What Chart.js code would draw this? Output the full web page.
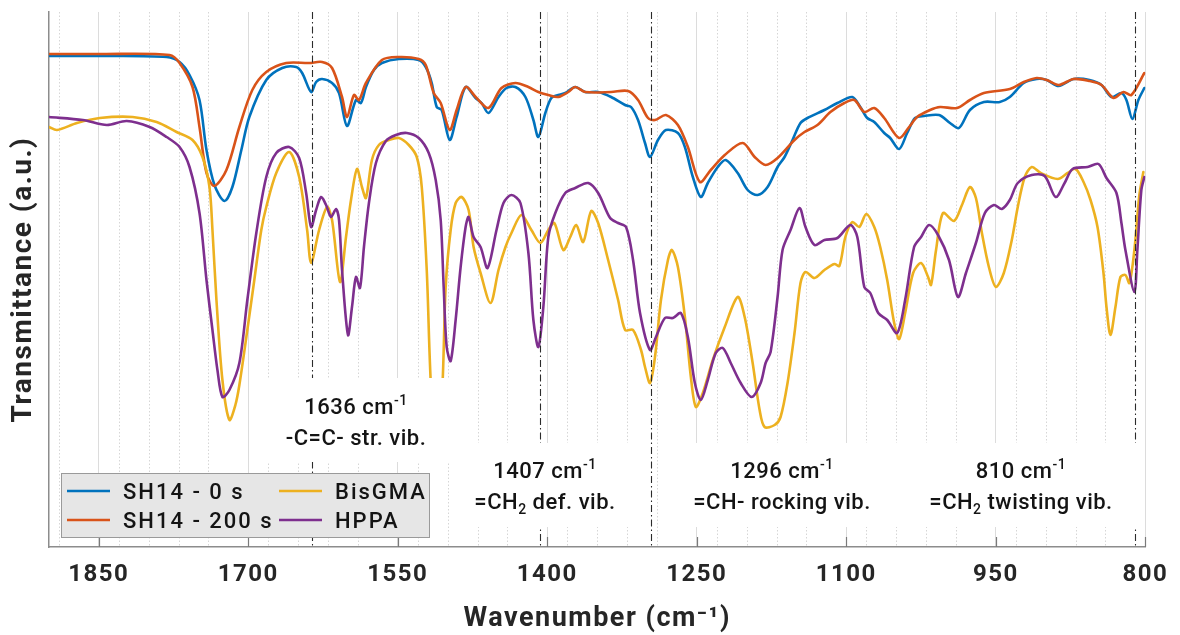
<!DOCTYPE html>
<html>
<head>
<meta charset="utf-8">
<script src="https://cdn.jsdelivr.net/npm/chart.js@4.4.0/dist/chart.umd.min.js"></script>
<style>
  html, body { margin: 0; padding: 0; background: #fff; }
  #wrap { width: 1180px; height: 635px; position: relative; }
</style>
</head>
<body>
<div id="wrap"><canvas id="ftir"></canvas></div>
<script>
// FTIR spectra, wavenumber (cm-1) vs transmittance (a.u.)
const sh0Wn = [1900,1849,1782,1769,1759,1749,1742,1734,1724,1716,1707,1699,1682,1666,1652,1646,1637,1632,1626,1616,
  1609,1601,1592,1587,1582,1574,1566,1549,1529,1522,1516,1511,1506,1498,1491,1482,1472,1466,1459,1449,
  1441,1432,1422,1414,1409,1402,1396,1389,1382,1372,1362,1349,1336,1322,1316,1309,1302,1297,1289,1281,
  1269,1262,1254,1246,1239,1229,1221,1209,1199,1189,1179,1169,1162,1154,1146,1139,1122,1109,1094,1086,
  1079,1072,1062,1056,1047,1039,1031,1022,1007,996,987,976,962,946,936,922,909,899,887,872,
  856,844,834,824,819,813,807,801];
const sh0T = [491,491,490,485,472,447,397,362,346,360,397,430,467,479,480,474,455,465,468,464,
  454,421,447,444,460,477,484,488,487,480,464,440,437,407,430,460,449,444,434,450,
  459,460,450,427,410,434,449,452,454,460,455,455,450,442,440,427,404,390,407,417,
  414,400,370,350,364,380,387,374,357,352,360,380,390,407,424,429,437,444,450,440,
  429,425,414,409,398,414,429,431,432,424,419,437,445,445,450,464,468,467,461,468,
  467,462,450,454,447,428,447,459];

const sh200Wn = [1900,1849,1779,1769,1756,1749,1742,1734,1722,1709,1696,1682,1662,1639,1626,1616,1606,1601,1594,1589,
  1582,1566,1549,1529,1522,1514,1507,1498,1491,1482,1471,1459,1446,1432,1419,1409,1399,1389,1379,1372,
  1362,1336,1319,1309,1299,1292,1281,1269,1259,1247,1236,1222,1204,1192,1181,1169,1152,1142,1129,1116,
  1102,1092,1082,1072,1062,1047,1037,1029,1016,1006,989,976,962,936,922,909,899,887,872,856,
  844,832,822,814,801];
const sh200T = [493,493,492,484,460,420,374,361,377,420,457,475,484,484,485,479,450,430,452,447,
  464,487,490,488,482,454,444,417,437,460,449,439,459,464,460,455,452,450,455,460,
  455,455,456,447,429,427,432,422,400,365,377,392,404,390,382,389,407,415,422,435,
  444,447,435,439,429,409,420,430,437,440,439,447,454,458,465,469,467,462,468,466,
  462,449,455,452,474];

const bisgmaWn = [1900,1892,1872,1849,1816,1792,1772,1756,1746,1739,1736,1732,1726,1719,1713,1709,1701,1694,1687,1682,
  1672,1659,1649,1641,1637,1629,1621,1616,1608,1602,1597,1591,1586,1582,1576,1569,1559,1549,1539,1531,
  1526,1521,1516,1511,1506,1502,1497,1492,1486,1479,1474,1467,1457,1449,1442,1436,1426,1416,1407,1399,
  1393,1384,1377,1371,1364,1356,1349,1339,1329,1322,1314,1306,1302,1297,1292,1286,1279,1275,1269,1262,
  1256,1251,1244,1234,1222,1209,1202,1194,1187,1182,1172,1166,1159,1152,1146,1141,1132,1122,1112,1107,
  1101,1094,1087,1080,1072,1066,1059,1052,1047,1041,1033,1025,1018,1015,1010,1003,992,984,976,970,
  964,957,950,942,934,928,921,914,905,888,878,870,862,855,848,842,839,835,830,825,
  820,816,811,806,802];
const bisgmaT = [420,417,424,429,430,425,415,407,390,360,317,247,167,127,142,162,217,267,317,340,
  374,395,370,317,284,317,340,327,265,310,347,378,360,349,387,402,407,409,402,390,
  360,277,147,127,147,260,317,344,350,337,300,274,244,277,300,314,332,317,304,317,
  324,297,310,322,305,336,324,287,247,217,217,197,180,164,190,247,287,297,280,230,
  170,140,154,187,220,250,230,184,137,120,122,130,164,214,264,275,269,277,283,281,
  310,325,320,333,320,300,267,224,208,234,274,284,270,262,297,334,326,342,360,349,
  314,280,260,274,307,340,370,380,374,368,374,378,365,347,320,274,240,212,240,270,
  272,264,297,352,375];

const hppaWn = [1900,1866,1842,1822,1799,1782,1769,1759,1749,1742,1736,1731,1726,1719,1709,1701,1692,1682,1672,1659,
  1649,1642,1637,1632,1627,1622,1617,1612,1609,1606,1600,1596,1592,1588,1584,1579,1572,1562,1552,1541,
  1529,1519,1512,1507,1504,1501,1497,1492,1487,1482,1479,1474,1467,1460,1451,1444,1436,1427,1419,1414,
  1409,1404,1399,1392,1382,1372,1359,1349,1337,1329,1321,1314,1307,1297,1291,1282,1274,1266,1259,1252,
  1246,1239,1231,1224,1216,1206,1195,1186,1181,1176,1169,1164,1156,1147,1141,1132,1122,1109,1096,1089,
  1082,1076,1068,1059,1049,1041,1032,1025,1017,1008,997,988,980,970,961,952,944,936,928,914,
  901,890,881,873,858,847,839,829,824,820,811,808,804,801];
const hppaT = [430,427,422,426,420,410,400,380,334,267,217,177,150,157,184,247,314,370,394,400,
  389,354,320,337,350,342,330,338,327,277,212,240,270,259,300,344,384,406,412,414,
  409,394,367,327,260,200,186,227,280,320,330,310,300,279,317,344,352,344,294,227,
  200,240,310,334,354,359,364,354,329,324,320,287,234,197,210,229,229,234,210,164,
  147,167,194,199,184,164,150,164,184,195,250,297,317,339,320,302,307,309,322,310,
  260,254,234,227,214,247,300,310,322,312,287,250,274,304,334,342,338,347,364,372,
  371,350,364,378,380,383,369,354,324,297,255,297,357,370];

const seriesNames = ['SH14 - 0 s', 'SH14 - 200 s', 'BisGMA', 'HPPA'];
const seriesColors = ['#0072BD', '#D95319', '#EDB120', '#7E2F8E'];
const seriesWn = [sh0Wn, sh200Wn, bisgmaWn, hppaWn];
const seriesT = [sh0T, sh200T, bisgmaT, hppaT];

const xTicks = [1850, 1700, 1550, 1400, 1250, 1100, 950, 800];
const minorStep = 30;

// marked bands and their two-line labels ([text, 'sup'|'sub'|''] pieces)
const bandWn = [1636, 1407, 1296, 810];
const bandLines = [
  [[['1636 cm', ''], ['-1', 'sup']], [['-C=C- str. vib.', '']]],
  [[['1407 cm', ''], ['-1', 'sup']], [['=CH', ''], ['2', 'sub'], [' def. vib.', '']]],
  [[['1296 cm', ''], ['-1', 'sup']], [['=CH- rocking vib.', '']]],
  [[['810 cm', ''], ['-1', 'sup']], [['=CH', ''], ['2', 'sub'], [' twisting vib.', '']]]
];

// label box layout (px): [left, top, right, bottom, centre x, baseline 1, baseline 2]
const bandBoxes = [
  [255, 378, 458, 462, 356, 414, 445],
  [450, 443, 642, 527, 545, 478, 509],
  [663, 443, 900, 527, 782, 478, 509],
  [902, 443, 1141, 527, 1021, 478, 509]
];

const FONT = 'Roboto, "Open Sans", sans-serif';

function drawRich(ctx, parts, cx, baseY, size) {
  const fontFor = k => '500 ' + (k ? Math.round(size * 0.62) : size) + 'px ' + FONT;
  let total = 0;
  parts.forEach(([t, k]) => { ctx.font = fontFor(k); total += ctx.measureText(t).width; });
  let px = cx - total / 2;
  parts.forEach(([t, k]) => {
    ctx.font = fontFor(k);
    const dy = k === 'sup' ? -size * 0.42 : (k === 'sub' ? size * 0.22 : 0);
    ctx.fillText(t, px, baseY + dy);
    px += ctx.measureText(t).width;
  });
}

const bandPlugin = {
  id: 'bands',
  beforeDraw(chart) {
    chart.ctx.letterSpacing = '1.5px';
  },
  beforeDatasetsDraw(chart) {
    const { ctx, chartArea: a, scales: { x } } = chart;
    ctx.save();
    ctx.strokeStyle = '#d6d6d6';
    ctx.lineWidth = 1;
    ctx.setLineDash([1.5, 2]);
    for (let w = 810; w <= 1890; w += minorStep) {
      if (xTicks.some(t => Math.abs(t - w) <= 10)) continue;
      const px = Math.round(x.getPixelForValue(w)) + 0.5;
      ctx.beginPath();
      ctx.moveTo(px, a.top);
      ctx.lineTo(px, a.bottom);
      ctx.stroke();
    }
    ctx.restore();
  },
  afterDatasetsDraw(chart) {
    const { ctx, chartArea: a, scales: { x } } = chart;
    ctx.save();

    // dash-dot band markers
    ctx.strokeStyle = '#2b2b2b';
    ctx.lineWidth = 1.1;
    ctx.setLineDash([7, 3, 1.5, 3]);
    bandWn.forEach(w => {
      const px = Math.round(x.getPixelForValue(w)) + 0.5;
      ctx.beginPath();
      ctx.moveTo(px, a.top);
      ctx.lineTo(px, a.bottom);
      ctx.stroke();
    });
    ctx.setLineDash([]);

    // inward major ticks
    ctx.strokeStyle = '#7a7a7a';
    ctx.lineWidth = 1.2;
    xTicks.forEach(w => {
      const px = Math.round(x.getPixelForValue(w)) + 0.5;
      ctx.beginPath();
      ctx.moveTo(px, a.bottom);
      ctx.lineTo(px, a.bottom - 10);
      ctx.stroke();
    });

    // white label boxes + text
    ctx.fillStyle = '#ffffff';
    bandBoxes.forEach(b => ctx.fillRect(b[0], b[1], b[2] - b[0], b[3] - b[1]));
    ctx.fillStyle = '#141414';
    ctx.textBaseline = 'alphabetic';
    ctx.textAlign = 'left';
    ctx.letterSpacing = '0.5px';
    bandLines.forEach((lines, i) => {
      const b = bandBoxes[i];
      drawRich(ctx, lines[0], b[4], b[5], 22);
      drawRich(ctx, lines[1], b[4], b[6], 22);
    });

    // legend (2 columns, filled grey box)
    const lg = { left: 61, top: 473, right: 429, bottom: 537 };
    ctx.fillStyle = '#e6e6e6';
    ctx.fillRect(lg.left, lg.top, lg.right - lg.left, lg.bottom - lg.top);
    ctx.strokeStyle = '#9a9a9a';
    ctx.lineWidth = 1;
    ctx.strokeRect(lg.left + 0.5, lg.top + 0.5, lg.right - lg.left, lg.bottom - lg.top);
    const colX = [67, 279];
    const rowY = [491, 520];
    ctx.letterSpacing = '2px';
    ctx.font = '500 22px ' + FONT;
    chart.data.datasets.forEach((ds, i) => {
      const cx = colX[Math.floor(i / 2)];
      const cy = rowY[i % 2];
      ctx.strokeStyle = ds.borderColor;
      ctx.lineWidth = 2.6;
      ctx.beginPath();
      ctx.moveTo(cx, cy);
      ctx.lineTo(cx + 43, cy);
      ctx.stroke();
      ctx.fillStyle = '#141414';
      ctx.fillText(ds.label, cx + 56, cy + 8);
    });
    ctx.restore();
  },
  afterDraw(chart) {
    chart.ctx.letterSpacing = '0px';
  }
};

const datasets = seriesNames.map((name, i) => ({
  label: name,
  data: seriesWn[i].map((w, j) => ({ x: w, y: seriesT[i][j] })),
  borderColor: seriesColors[i],
  backgroundColor: seriesColors[i],
  borderWidth: 2.6,
  pointRadius: 0,
  fill: false,
  tension: 0.3,
  borderJoinStyle: 'round',
  borderCapStyle: 'round',
  order: 3 - i
}));

new Chart(document.getElementById('ftir'), {
  type: 'line',
  data: { datasets },
  options: {
    responsive: true,
    maintainAspectRatio: false,
    animation: false,
    devicePixelRatio: 1,
    layout: { padding: { left: 0, right: 33, top: 12, bottom: 0 } },
    plugins: { legend: { display: false }, tooltip: { enabled: false } },
    scales: {
      x: {
        type: 'linear',
        reverse: true,
        min: 800,
        max: 1900,
        afterBuildTicks: s => { s.ticks = xTicks.map(v => ({ value: v })); },
        afterFit: s => { s.height = 88; },
        ticks: {
          autoSkip: false,
          maxRotation: 0,
          padding: 14,
          color: '#262626',
          font: { family: FONT, size: 24, weight: 'bold' },
          callback: v => String(v)
        },
        grid: { color: '#dcdcdc', lineWidth: 1, drawTicks: false },
        border: { color: '#8c8c8c', width: 1.5 },
        title: {
          display: true,
          text: 'Wavenumber (cm⁻¹)',
          color: '#262626',
          font: { family: FONT, size: 27, weight: 'bold' },
          padding: { top: 0, bottom: 0 }
        }
      },
      y: {
        min: 0,
        max: 535,
        afterFit: s => { s.width = 49; },
        ticks: { display: false },
        grid: { drawOnChartArea: false, drawTicks: false },
        border: { color: '#8c8c8c', width: 1.5 },
        title: {
          display: true,
          text: 'Transmittance (a.u.)',
          color: '#262626',
          font: { family: FONT, size: 28, weight: 'bold' },
          padding: { top: 7, bottom: 0 }
        }
      }
    }
  },
  plugins: [bandPlugin]
});
</script>
</body>
</html>
